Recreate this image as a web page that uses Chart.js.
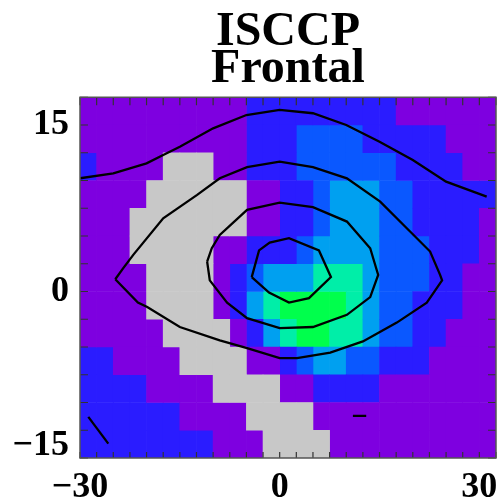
<!DOCTYPE html>
<html>
<head>
<meta charset="utf-8">
<script src="https://cdn.jsdelivr.net/npm/chart.js@4.4.1/dist/chart.umd.min.js"></script>
<style>
  html, body { margin: 0; padding: 0; background: #fff; }
  canvas { display: block; }
</style>
</head>
<body>
<canvas id="chart" width="501" height="504"></canvas>
<script>
// Cell edges along the x axis (25 columns of 2.5 degrees)
const lonEdges = [-30, -27.5, -25, -22.5, -20, -17.5, -15, -12.5, -10, -7.5, -5, -2.5,
                  0, 2.5, 5, 7.5, 10, 12.5, 15, 17.5, 20, 22.5, 25, 27.5, 30, 32.5];
// Row centres along the y axis, top row first (13 rows of 2.5 degrees)
const latCenters = [16.25, 13.75, 11.25, 8.75, 6.25, 3.75, 1.25,
                    -1.25, -3.75, -6.25, -8.75, -11.25, -13.75];

// Class of every cell, one string per row (top to bottom), one digit per column
// 0 = no data, 1..6 = increasing cloud amount
const cellClass = [
  "1111111111222222222111111",
  "1111111111222333322222111",
  "2111100011222333333222211",
  "1111000000112234443322222",
  "1110000000112234443322221",
  "1110000011222344443332221",
  "1111000012344455543332211",
  "1111000012456666543322211",
  "1111100001245665543322111",
  "2211110000112344332221111",
  "2222111100001122221111111",
  "2222221111000011111111111",
  "2222222211100001111111111"
];
const classNames = ["no data", "level 1", "level 2", "level 3", "level 4", "level 5", "level 6"];
const classColors = ["#c8c8c8", "#7e00e0", "#2a1cff", "#0a58ff", "#00a0f0", "#00eea8", "#00ff4c"];

// Contour lines, as [x, y] vertices
const contourOuter = [[-30, 10.2], [-25, 10.65], [-20, 11.55], [-17.5, 12.3], [-15, 13.05], [-10, 14.7],
  [-5, 15.9], [0, 16.36], [5, 16.06], [10, 15.0], [15, 13.5], [20, 11.85], [25, 9.9], [31.1, 8.55]];
const contourSecond = [[-24.7, 1.1], [-23.5, 2.1], [-22, 3.3], [-17.5, 6.6], [-12.4, 8.7], [-9, 10.2],
  [-4.9, 11.2], [0, 11.7], [5, 11.2], [10.1, 10.2], [15.1, 8.1], [19.1, 5.7], [22.6, 3.6], [24.1, 1.5],
  [24.4, 1.0], [22.1, -1.0], [17.6, -2.8], [12.5, -4.5], [7.6, -5.5], [2.6, -6.0], [0, -6.0], [-4.9, -5.1],
  [-9, -4.4], [-15, -3.2], [-19.9, -1.4], [-21.3, -1.0], [-24.7, 1.1]];
const contourThird = [[-10.9, 2.7], [-10.2, 3.9], [-9, 5.1], [-4.9, 7.35], [0, 8.0], [5, 7.6], [10.1, 6.3],
  [13.6, 3.9], [14.8, 1.5], [13.6, -0.5], [10.1, -2.1], [5, -3.2], [0, -3.3], [-4.9, -2.4], [-7.9, -1.0],
  [-10.5, 1.0], [-10.9, 2.7]];
const contourInner = [[-4.2, 1.3], [-3.1, 3.7], [-1.5, 4.4], [1.4, 4.8], [5.9, 3.7], [7.7, 1.3], [4.4, -0.6],
  [1.4, -1.0], [-1.6, -0.1], [-4.2, 1.3]];
const contourCornerSW = [[-28.75, -11.3], [-25.75, -13.7]];
const contourDashSE = [[11.0, -11.2], [13.0, -11.2]];

const xTickLabels = [-30, 0, 30];
const yTickLabels = [-15, 0, 15];

const fmt = v => (v < 0 ? '\u2212' + Math.abs(v) : String(v));
const serif = '"Liberation Serif", "Times New Roman", serif';

// One floating-bar dataset per class
const barDatasets = classColors.map((color, k) => {
  const data = [];
  cellClass.forEach((row, r) => {
    for (let c = 0; c < row.length; c++) {
      if (Number(row[c]) === k) {
        data.push({ y: latCenters[r], x: [lonEdges[c], lonEdges[c + 1]] });
      }
    }
  });
  return {
    type: 'bar',
    label: classNames[k],
    indexAxis: 'y',
    data,
    backgroundColor: color,
    borderWidth: 0,
    barPercentage: 1,
    categoryPercentage: 1,
    grouped: false,
    order: 2
  };
});

const lineDatasets = [contourOuter, contourSecond, contourThird, contourInner, contourCornerSW, contourDashSE]
  .map((pts, i) => ({
    type: 'line',
    label: 'contour ' + (i + 1),
    indexAxis: 'x',
    data: pts.map(p => ({ x: p[0], y: p[1] })),
    borderColor: '#000',
    borderWidth: 2.3,
    pointRadius: 0,
    fill: false,
    tension: 0,
    order: 1
  }));

// Frame and inward tick marks on all four sides
const frameTicks = {
  id: 'frameTicks',
  afterDatasetsDraw(chart) {
    const { ctx, chartArea: a, scales: { x, y } } = chart;
    ctx.save();
    ctx.strokeStyle = '#333';
    ctx.lineWidth = 1.2;
    ctx.beginPath();
    x.ticks.forEach(t => {
      const px = x.getPixelForValue(t.value);
      ctx.moveTo(px, a.top); ctx.lineTo(px, a.top + 8);
      ctx.moveTo(px, a.bottom); ctx.lineTo(px, a.bottom - 6);
    });
    y.ticks.forEach(t => {
      const py = y.getPixelForValue(t.value);
      ctx.moveTo(a.left, py); ctx.lineTo(a.left + 8, py);
      ctx.moveTo(a.right, py); ctx.lineTo(a.right - 8, py);
    });
    ctx.stroke();
    ctx.strokeStyle = '#555';
    ctx.lineWidth = 1.5;
    ctx.strokeRect(a.left, a.top, a.right - a.left, a.bottom - a.top);
    ctx.restore();
  }
};

// x labels sit lower through a tall line box, so no tick padding widens the layout
const xLabelFont = { family: serif, size: 36, weight: 'bold', lineHeight: 1.64 };
const yLabelFont = { family: serif, size: 36, weight: 'bold', lineHeight: 0.7 };

new Chart(document.getElementById('chart'), {
  type: 'bar',
  data: { datasets: [...lineDatasets, ...barDatasets] },
  options: {
    responsive: false,
    devicePixelRatio: 1,
    animation: false,
    events: [],
    layout: { padding: { left: 0, right: 5, top: 0, bottom: 0 } },
    plugins: {
      legend: { display: false },
      tooltip: { enabled: false },
      title: {
        display: true,
        fullSize: false,
        text: ['ISCCP', 'Frontal'],
        color: '#000',
        font: { family: serif, size: 48, weight: 'bold', lineHeight: 0.76 },
        padding: { top: 14.75, bottom: 9.55 }
      }
    },
    scales: {
      x: {
        type: 'linear',
        min: -30, max: 32.5,
        offset: false,
        grid: { display: false, drawTicks: false, offset: false },
        border: { display: false },
        ticks: {
          stepSize: 2.5,
          autoSkip: false,
          maxRotation: 0,
          padding: 0,
          color: '#000',
          font: xLabelFont,
          callback: v => (xTickLabels.includes(v) ? fmt(v) : '')
        },
        afterFit: s => { s.height = 46; }
      },
      y: {
        type: 'linear',
        min: -15, max: 17.5,
        offset: false,
        grid: { display: false, drawTicks: false, offset: false },
        border: { display: false },
        ticks: {
          stepSize: 2.5,
          autoSkip: false,
          padding: 11,
          color: '#000',
          font: yLabelFont,
          callback: v => {
            if (!yTickLabels.includes(v)) return '';
            return v === yTickLabels[0] ? [fmt(v), ''] : fmt(v);
          }
        },
        afterFit: s => { s.width = 80; }
      }
    }
  },
  plugins: [frameTicks]
});
</script>
</body>
</html>
